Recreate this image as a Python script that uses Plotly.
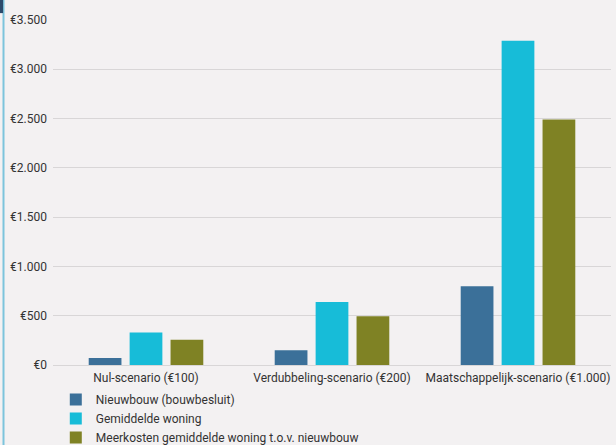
import plotly.graph_objects as go

categories = ["Nul-scenario (€100)", "Verdubbeling-scenario (€200)", "Maatschappelijk-scenario (€1.000)"]
series_names = ["Nieuwbouw (bouwbesluit)", "Gemiddelde woning", "Meerkosten gemiddelde woning t.o.v. nieuwbouw"]
nieuwbouw = [70, 150, 800]
gemiddelde = [330, 640, 3290]
meerkosten = [255, 495, 2490]
colors = ["#3b7099", "#17bcd8", "#7f8224"]
tick_vals = [0, 500, 1000, 1500, 2000, 2500, 3000, 3500]
tick_text = ["€0", "€500", "€1.000", "€1.500", "€2.000", "€2.500", "€3.000", "€3.500"]

fig = go.Figure()
for name, vals, col in zip(series_names, [nieuwbouw, gemiddelde, meerkosten], colors):
    fig.add_trace(go.Bar(x=categories, y=vals, name=name, marker_color=col, marker_line_width=0))

font_family = "Roboto, Arial, sans-serif"
fig.update_layout(
    width=616, height=445,
    barmode="group", bargap=0.34, bargroupgap=0.2,
    paper_bgcolor="#f3f1f2", plot_bgcolor="#f3f1f2",
    margin=dict(l=53, r=5, t=20, b=80, autoexpand=False),
    font=dict(family=font_family, size=12, color="#333333"),
    showlegend=True,
    legend=dict(orientation="v", x=0.005, y=-0.058, xanchor="left", yanchor="top",
                font=dict(size=12, color="#333333"), bgcolor="rgba(0,0,0,0)",
                traceorder="normal", itemwidth=30),
    xaxis=dict(showgrid=False, showline=False, ticks="", ticklabelstandoff=4,
               tickfont=dict(size=12, color="#333333")),
    yaxis=dict(range=[0, 3500], tickvals=tick_vals, ticktext=tick_text,
               showgrid=True, gridcolor="#d8d6d7", gridwidth=1, zeroline=True,
               zerolinecolor="#d8d6d7", zerolinewidth=1,
               ticks="", ticklabelstandoff=5, tickfont=dict(size=12, color="#333333")),
)
# left decorative border
fig.add_shape(type="line", xref="paper", yref="paper", x0=-0.0887, x1=-0.0887, y0=-0.3, y1=1.1,
              line=dict(color="#7cc4dc", width=2))
fig.add_shape(type="rect", xref="paper", yref="paper", x0=-0.097, x1=-0.0895, y0=1.02, y1=1.07,
              fillcolor="#2c4a6b", line=dict(width=0))
fig.write_html("out.html")
